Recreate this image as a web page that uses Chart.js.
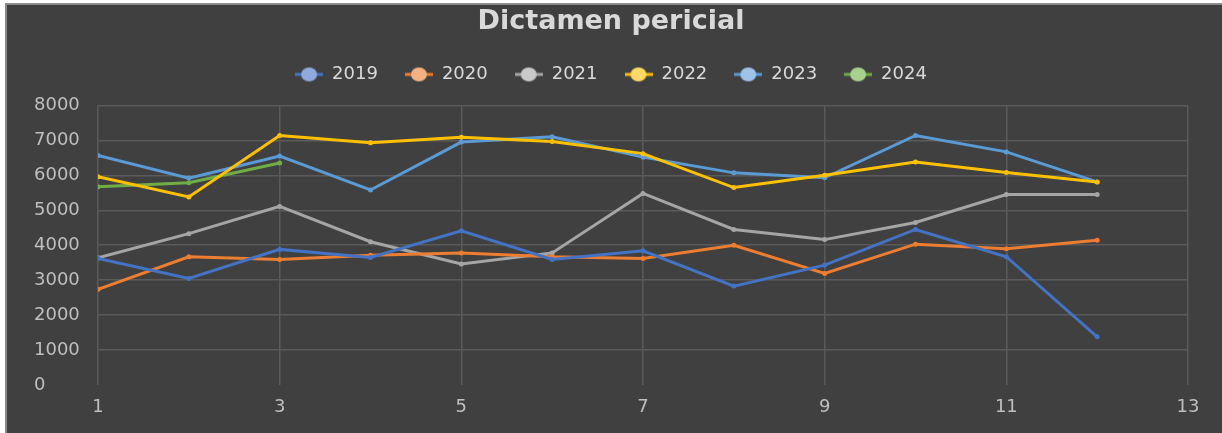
<!DOCTYPE html>
<html>
<head>
<meta charset="utf-8">
<script src="https://cdn.jsdelivr.net/npm/chart.js@4"></script>
<style>
  html, body { margin: 0; padding: 0; background: #ffffff; }
  #frame {
    position: absolute; left: 5px; top: 3px; width: 1215px; height: 428px;
    border-top: 2px solid #8a8a8a; border-left: 2px solid #8a8a8a;
    background: #404040;
  }
  #lineChart { display: block; }
</style>
</head>
<body>
<div id="frame"><canvas id="lineChart" width="1215" height="428"></canvas></div>
<script>
// Month numbers on the x axis
const months = [1, 2, 3, 4, 5, 6, 7, 8, 9, 10, 11, 12];

// Values per year
const y2019 = [3620, 3050, 3880, 3650, 4410, 3590, 3840, 2830, 3430, 4450, 3670, 1380];
const y2020 = [2740, 3670, 3590, 3710, 3780, 3670, 3620, 4000, 3190, 4030, 3900, 4140];
const y2021 = [3640, 4330, 5110, 4100, 3460, 3780, 5480, 4450, 4160, 4650, 5450, 5450];
const y2022 = [5960, 5380, 7140, 6930, 7090, 6970, 6620, 5650, 6000, 6380, 6080, 5810];
const y2023 = [6570, 5920, 6550, 5580, 6950, 7100, 6520, 6070, 5930, 7140, 6670, 5810];
const y2024 = [5670, 5790, 6350];

const years = ['2019', '2020', '2021', '2022', '2023', '2024'];
const values = [y2019, y2020, y2021, y2022, y2023, y2024];
const lineColors = ['#4472C4', '#ED7D31', '#A5A5A5', '#FFC000', '#5B9BD5', '#70AD47'];
const markerColors = ['#8FAADC', '#F4B183', '#C9C9C9', '#FFD966', '#9DC3E6', '#A9D18E'];

// Excel style legend marker: a short line with a dot on it
function legendMarker(line, dot) {
  const c = document.createElement('canvas');
  c.width = 28;
  c.height = 16;
  const g = c.getContext('2d');
  g.strokeStyle = line;
  g.lineWidth = 3;
  g.beginPath();
  g.moveTo(0, 8);
  g.lineTo(28, 8);
  g.stroke();
  g.fillStyle = dot;
  g.beginPath();
  g.ellipse(14, 8, 8, 7, 0, 0, Math.PI * 2);
  g.fill();
  return c;
}

const datasets = years.map((year, i) => ({
  label: year,
  data: values[i].map((v, j) => ({ x: months[j], y: v })),
  borderColor: lineColors[i],
  backgroundColor: lineColors[i],
  borderWidth: 3,
  pointRadius: 2.5,
  pointHoverRadius: 3,
  pointBorderWidth: 0,
  pointStyle: 'circle',
  tension: 0
}));

// extra room between the legend and the plot
const legendGap = {
  id: 'legendGap',
  afterInit(chart) {
    const fit = chart.legend.fit.bind(chart.legend);
    chart.legend.fit = function () {
      fit();
      this.height += 12;
    };
  }
};

const gridColor = '#5a5a5a';

function createLineChart() {
  const ctx = document.getElementById('lineChart').getContext('2d');
  new Chart(ctx, {
    type: 'line',
    data: { datasets: datasets },
    plugins: [legendGap],
    options: {
      responsive: false,
      animation: false,
      layout: { padding: { left: 27, right: 34, top: 0, bottom: 0 } },
      font: { family: 'DejaVu Sans' },
      plugins: {
        tooltip: { enabled: false },
        title: {
          display: true,
          text: 'Dictamen pericial',
          color: '#d9d9d9',
          font: { family: 'DejaVu Sans', size: 27, weight: 'bold' },
          padding: { top: 1, bottom: 0 }
        },
        legend: {
          position: 'top',
          labels: {
            color: '#d9d9d9',
            font: { family: 'DejaVu Sans', size: 18 },
            usePointStyle: true,
            pointStyleWidth: 28,
            boxHeight: 16,
            padding: 27,
            generateLabels(chart) {
              return chart.data.datasets.map((ds, i) => ({
                text: ds.label,
                pointStyle: legendMarker(lineColors[i], markerColors[i]),
                fontColor: '#d9d9d9',
                strokeStyle: 'transparent',
                fillStyle: 'transparent',
                lineWidth: 0,
                datasetIndex: i,
                hidden: false
              }));
            }
          }
        }
      },
      scales: {
        x: {
          type: 'linear',
          min: 1,
          max: 13,
          afterFit(scale) { scale.height = 48; },
          ticks: {
            stepSize: 2,
            color: '#bfbfbf',
            padding: 12,
            font: { family: 'DejaVu Sans', size: 18 },
            callback: (v) => String(v)
          },
          grid: { color: gridColor, lineWidth: 1.5, drawTicks: false },
          border: { display: false }
        },
        y: {
          min: 0,
          max: 8000,
          afterFit(scale) { scale.width = 64; },
          ticks: {
            stepSize: 1000,
            color: '#bfbfbf',
            crossAlign: 'far',
            font: { family: 'DejaVu Sans', size: 18 },
            callback: (v) => String(v)
          },
          grid: {
            color: (c) => (c.tick && c.tick.value === 0 ? 'transparent' : gridColor),
            lineWidth: 1.5,
            drawTicks: false
          },
          border: { display: false }
        }
      }
    }
  });
}

createLineChart();
</script>
</body>
</html>
